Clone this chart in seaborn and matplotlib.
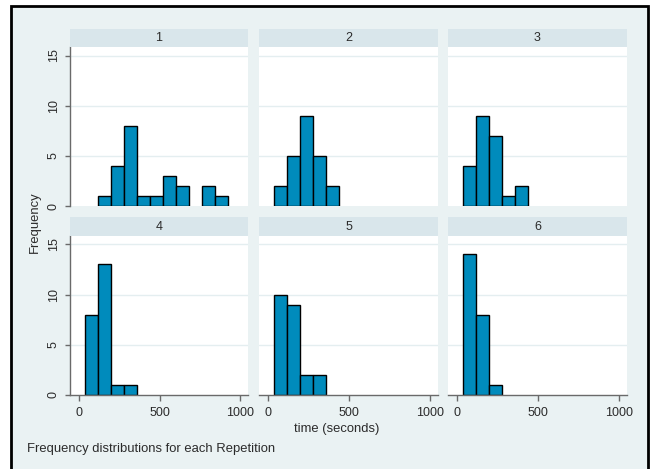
import numpy as np
import pandas as pd
import matplotlib
matplotlib.use("Agg")
import matplotlib.pyplot as plt
import seaborn as sns
from matplotlib.patches import Rectangle

# ---- data (histogram bin counts) ----
repetitions = ["1", "2", "3", "4", "5", "6"]
bin_start = 33
bin_width = 81
counts_1 = [0, 1, 4, 8, 1, 1, 3, 2, 0, 2, 1]
counts_2 = [2, 5, 9, 5, 2]
counts_3 = [4, 9, 7, 1, 2]
counts_4 = [8, 13, 1, 1]
counts_5 = [10, 9, 2, 2]
counts_6 = [14, 8, 1]
x_ticks = [0, 500, 1000]
y_ticks = [0, 5, 10, 15]
x_label = "time (seconds)"
y_label = "Frequency"
caption = "Frequency distributions for each Repetition"

all_counts = [counts_1, counts_2, counts_3, counts_4, counts_5, counts_6]
n_bins = max(len(c) for c in all_counts)
edges = [float(bin_start + bin_width * i) for i in range(n_bins + 1)]
centers = [(edges[i] + edges[i + 1]) / 2 for i in range(n_bins)]

rows = []
for rep, cnts in zip(repetitions, all_counts):
    for i, c in enumerate(cnts):
        rows.append({"rep": rep, "time": centers[i], "count": float(c)})
df = pd.DataFrame(rows)

# ---- style ----
sns.set_theme(style="white")
plt.rcParams["font.family"] = ["Liberation Sans", "DejaVu Sans"]

BG = "#EAF2F3"
STRIP = "#D9E6EB"
BAR = "#008BBC"
AXIS = "#6a6a6a"
TXT = "#2b2b2b"
GRID = "#E4EEF0"
FS_TICK = 9.0
FS_TITLE = 9.4

W, H = 653, 469
fig = plt.figure(figsize=(W / 100, H / 100), dpi=100)
fig.patch.set_facecolor("white")
bg = Rectangle((11 / W, -0.02), (648 - 11) / W, (469 - 6) / H + 0.02,
               transform=fig.transFigure, facecolor=BG,
               edgecolor="black", linewidth=2, zorder=-10)
fig.add_artist(bg)


def px(x0, y0, x1, y1):
    return [x0 / W, 1 - y1 / H, (x1 - x0) / W, (y1 - y0) / H]


cols = [(70, 248), (259, 438), (448, 627)]
plot_rows = [(47, 206), (236, 394.5)]
strip_rows = [(29, 47), (217, 236)]

for k, rep in enumerate(repetitions):
    r, c = divmod(k, 3)
    x0, x1 = cols[c]
    y0, y1 = plot_rows[r]
    ax = fig.add_axes(px(x0, y0, x1, y1))
    ax.set_zorder(1)
    sub = df[df["rep"] == rep].reset_index(drop=True)
    sns.histplot(x=sub["time"], weights=sub["count"], bins=edges, ax=ax,
                 color=BAR, edgecolor="black", linewidth=1.0, alpha=1)
    for p in ax.patches:
        if p.get_height() == 0:
            p.set_visible(False)
    ax.set_facecolor("white")
    ax.set_xlim(-58, 1048)
    ax.set_ylim(0, 15.85)
    for yv in y_ticks[1:]:
        ax.axhline(yv, color=GRID, lw=1.0, zorder=0)
    ax.set_xlabel("")
    ax.set_ylabel("")
    ax.set_xticks(x_ticks)
    ax.set_yticks(y_ticks)
    for s in ["top", "right"]:
        ax.spines[s].set_visible(False)
    ax.spines["left"].set_color(AXIS)
    ax.spines["bottom"].set_color(AXIS)
    ax.spines["left"].set_linewidth(1.0)
    ax.spines["bottom"].set_linewidth(1.0)
    if c == 0:
        ax.tick_params(axis="y", left=True, length=3.5, width=1, color=AXIS,
                       labelsize=FS_TICK, labelcolor=TXT, pad=4, labelrotation=90)
        for t in ax.get_yticklabels():
            t.set_va("center")
    else:
        ax.spines["left"].set_visible(False)
        ax.tick_params(axis="y", left=False, labelleft=False)
    if r == 1:
        ax.tick_params(axis="x", bottom=True, length=4, width=1, color=AXIS,
                       labelsize=FS_TICK, labelcolor=TXT, pad=5)
    else:
        ax.spines["bottom"].set_visible(False)
        ax.tick_params(axis="x", bottom=False, labelbottom=False)

    sy0, sy1 = strip_rows[r]
    sax = fig.add_axes(px(x0, sy0, x1, sy1))
    sax.set_zorder(1)
    sax.set_facecolor(STRIP)
    sax.set_xticks([])
    sax.set_yticks([])
    for s in sax.spines.values():
        s.set_visible(False)
    sax.text(0.5, 0.5, rep, ha="center", va="center", fontsize=FS_TICK,
             color=TXT, transform=sax.transAxes)

fig.text(35 / W, 1 - 222 / H, y_label, rotation=90, ha="center", va="center",
         fontsize=FS_TITLE, color=TXT)
fig.text(337 / W, 1 - 429 / H, x_label, ha="center", va="center",
         fontsize=FS_TITLE, color=TXT)
fig.text(27 / W, 1 - 449 / H, caption, ha="left", va="center",
         fontsize=FS_TITLE, color=TXT)

fig.savefig("out.png", dpi=100, facecolor=fig.get_facecolor())
